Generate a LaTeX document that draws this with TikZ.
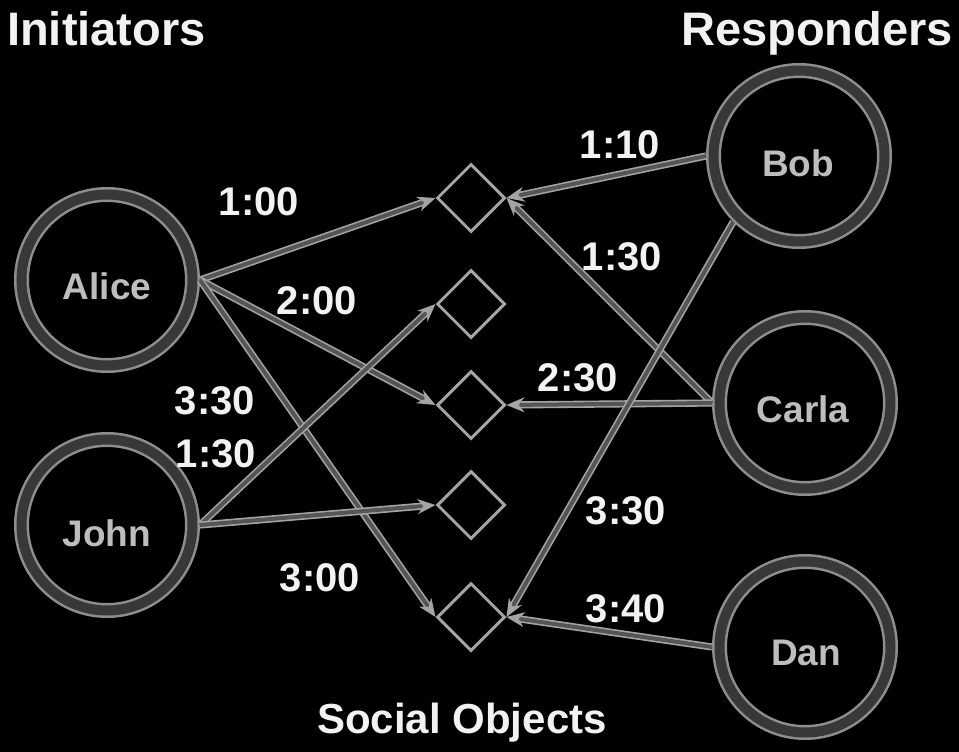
\documentclass[tikz,border=0pt]{standalone}
\usepackage{fontspec}
\setmainfont{Liberation Sans}
\usetikzlibrary{shapes.geometric,arrows.meta}
\definecolor{linec}{HTML}{A4A4A4}
\definecolor{linein}{HTML}{555555}
\definecolor{ringc}{HTML}{8E8E8E}
\definecolor{ringin}{HTML}{383838}
\definecolor{namec}{HTML}{BDBDBD}
\definecolor{titlec}{HTML}{F2F2F2}
\begin{document}
\begin{tikzpicture}[x=1pt,y=-1pt,
  person/.style={circle, minimum size=171pt, inner sep=0pt, outer sep=7.5pt,
    draw=ringc, line width=2.5pt, double=ringin, double distance=10pt},
  obj/.style={diamond, minimum size=68pt, inner sep=0pt, draw=linec, line width=3pt},
  conn/.style={draw=linec, line width=1.6pt, double=linein, double distance=4pt,
    -{Stealth[length=18pt,width=15pt]}},
  timelab/.style={font=\bfseries\fontsize{40}{40}\selectfont, text=titlec, inner sep=0pt},
  namelab/.style={font=\bfseries\fontsize{37}{37}\selectfont, text=namec, inner sep=0pt},
  titlelab/.style={font=\bfseries\fontsize{47}{47}\selectfont, text=titlec, inner sep=0pt}]
\fill[black] (0,0) rectangle (959,752);
\useasboundingbox (0,0) rectangle (959,752);

% titles
\node[titlelab, anchor=base west] (tinit) at (7,46) {Initiators};
\node[titlelab, anchor=base east] (tresp) at (953,46) {Responders};
\node[titlelab, font=\bfseries\fontsize{42}{42}\selectfont, anchor=base] (tsoc) at (462,733) {Social Objects};

% people
\node[person] (alice) at (107,280) {};
\node[person] (john)  at (107,525) {};
\node[person] (bob)   at (799,156) {};
\node[person] (carla) at (805,403) {};
\node[person] (dan)   at (805,647) {};
\node[namelab] (nalice) at (107,286) {Alice};
\node[namelab] (njohn)  at (107,533) {John};
\node[namelab] (nbob)   at (798,163) {Bob};
\node[namelab] (ncarla) at (803,409) {Carla};
\node[namelab] (ndan)   at (806,653) {Dan};

% social objects
\node[obj] (d1) at (471,198) {};
\node[obj] (d2) at (471,304) {};
\node[obj] (d3) at (471,405) {};
\node[obj] (d4) at (471,505) {};
\node[obj] (d5) at (471,617) {};

% connectors
\draw[conn] (alice.east) -- (d1.west);
\draw[conn] (alice.east) -- (d3.west);
\draw[conn] (alice.east) -- (d5.west);
\draw[conn] (john.east) -- (d2.west);
\draw[conn] (john.east) -- (d4.west);
\draw[conn] (bob.west) -- (d1.east);
\draw[conn] (carla.west) -- (d1.east);
\draw[conn] (carla.west) -- (d3.east);
\draw[conn] (bob.south west) -- (d5.east);
\draw[conn] (dan.west) -- (d5.east);

% time labels
\node[timelab] (l100) at (259,202) {1:00};
\node[timelab] (l200) at (317,301) {2:00};
\node[timelab] (l330a) at (215,401) {3:30};
\node[timelab] (l130a) at (216,454) {1:30};
\node[timelab] (l300) at (320,578) {3:00};
\node[timelab] (l110) at (620,145) {1:10};
\node[timelab] (l130b) at (622,257) {1:30};
\node[timelab] (l230) at (578,378) {2:30};
\node[timelab] (l330b) at (626,511) {3:30};
\node[timelab] (l340) at (626,609) {3:40};
\end{tikzpicture}
\end{document}
